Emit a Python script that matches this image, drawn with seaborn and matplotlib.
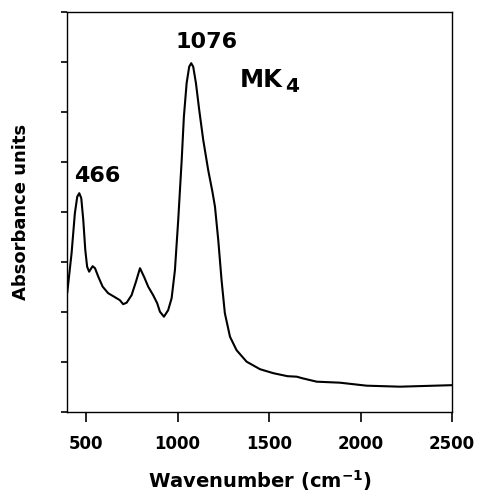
import matplotlib
matplotlib.use("Agg")
import matplotlib.pyplot as plt
import seaborn as sns
import pandas as pd

# FTIR spectrum of MK4 (wavenumber in cm-1, absorbance in arbitrary units)
wavenumber = [396, 420, 438, 451, 462, 473, 484, 495, 505, 516, 535, 548, 566,
              590, 620, 657, 684, 702, 721, 748, 772, 794, 816, 839, 866,
              888, 903, 925, 948, 967, 985, 1003, 1012, 1022, 1034, 1049,
              1063, 1074, 1085, 1100, 1118, 1140, 1167, 1190, 1204, 1222,
              1240, 1258, 1286, 1322, 1377, 1450, 1523, 1600, 1651, 1680,
              1760, 1887, 2033, 2215, 2498]
absorbance = [2.37, 3.17, 3.97, 4.30, 4.37, 4.27, 3.83, 3.23, 2.90, 2.80, 2.91, 2.87, 2.70,
              2.50, 2.37, 2.29, 2.23, 2.15, 2.18, 2.33, 2.60, 2.87, 2.70, 2.50, 2.33,
              2.17, 2.00, 1.90, 2.03, 2.27, 2.83, 3.83, 4.40, 5.03, 5.90, 6.57,
              6.90, 6.97, 6.90, 6.57, 6.03, 5.43, 4.83, 4.40, 4.10, 3.43,
              2.63, 1.97, 1.50, 1.23, 1.00, 0.85, 0.77, 0.71, 0.70, 0.67,
              0.60, 0.58, 0.52, 0.50, 0.53]
y_ticks = [0, 1, 2, 3, 4, 5, 6, 7, 8]
x_ticks = [500, 1000, 1500, 2000, 2500]

df = pd.DataFrame({"wavenumber": wavenumber, "absorbance": absorbance})

sns.set_style("ticks")
plt.rcParams["font.family"] = ["DejaVu Sans"]
plt.rcParams["text.color"] = "black"
plt.rcParams["axes.labelcolor"] = "black"

fig = plt.figure(figsize=(4.8, 4.96), dpi=100)
ax = fig.add_axes([0.1396, 0.170, 0.8021, 0.8064])

sns.lineplot(data=df, x="wavenumber", y="absorbance", ax=ax,
             color="black", linewidth=1.5, sort=False)

ax.set_xlim(395, 2500)
ax.set_ylim(0, 8)
ax.set_xticks(x_ticks)
ax.set_xticklabels([str(t) for t in x_ticks], fontsize=12, fontweight="bold")
ax.set_yticks(y_ticks)
ax.set_yticklabels([])
ax.tick_params(axis="x", direction="out", length=7, width=1.2, pad=10,
               colors="black", labelcolor="black")
ax.tick_params(axis="y", direction="out", length=4.5, width=1.2, colors="black")
for s in ax.spines.values():
    s.set_visible(True)
    s.set_linewidth(1.0)
    s.set_color("black")

ax.set_xlabel("Wavenumber (cm$^{\\mathbf{-1}}$)", fontsize=14, fontweight="bold",
              labelpad=11, color="black")
ax.set_ylabel("Absorbance units", fontsize=13, fontweight="bold", labelpad=19,
              color="black")

ax.text(1158, 7.27, "1076", ha="center", va="baseline", fontsize=16,
        fontweight="bold", color="black")
ax.text(559, 4.6, "466", ha="center", va="baseline", fontsize=16,
        fontweight="bold", color="black")
ax.text(1340, 6.5, "MK", ha="left", va="baseline", fontsize=17.5,
        fontweight="bold", color="black")
ax.text(1585, 6.4, "4", ha="left", va="baseline", fontsize=14.5,
        fontweight="bold", color="black")

fig.savefig("out.png", dpi=100)
